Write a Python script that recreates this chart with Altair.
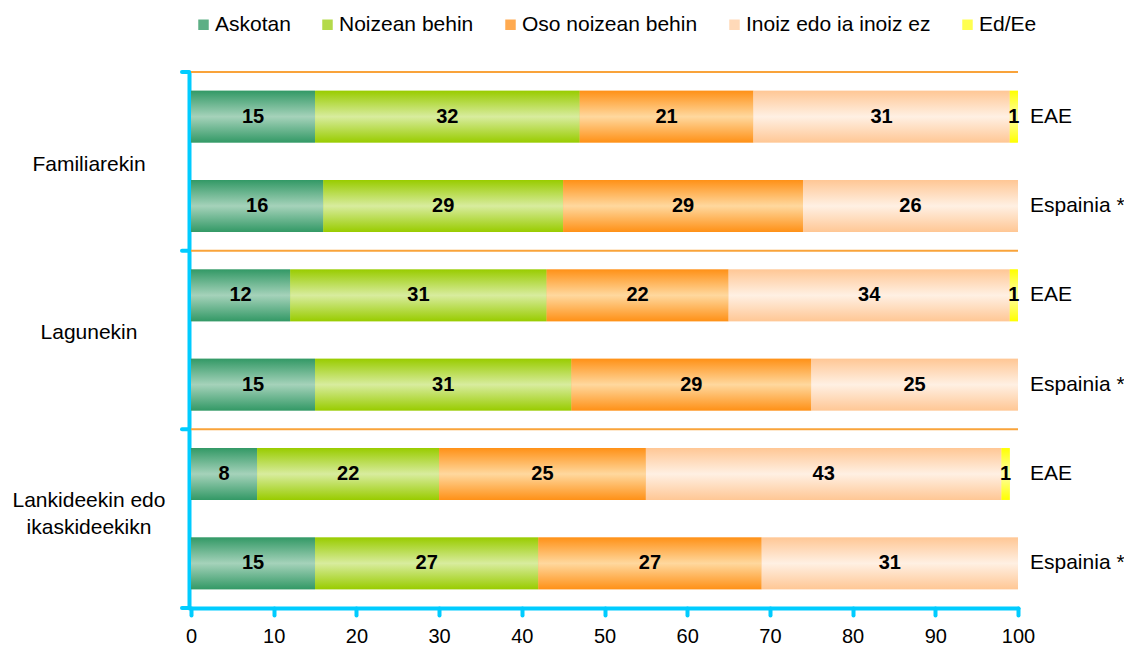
import altair as alt
import pandas as pd

groups = ["Familiarekin", "Lagunekin", "Lankideekin edo\nikaskideekikn"]
regions = ["EAE", "Espainia *"]
categories = ["Askotan", "Noizean behin", "Oso noizean behin", "Inoiz edo ia inoiz ez", "Ed/Ee"]
askotan = [15, 16, 12, 15, 8, 15]
noizean = [32, 29, 31, 31, 22, 27]
oso = [21, 29, 22, 29, 25, 27]
inoiz = [31, 26, 34, 25, 43, 31]
edee = [1, 0, 1, 0, 1, 0]
x_ticks = [0, 10, 20, 30, 40, 50, 60, 70, 80, 90, 100]

series = [askotan, noizean, oso, inoiz, edee]
dark = ["#339966", "#99CC00", "#FF9117", "#FFC795", "#FFFF00"]
light = ["#A5D2BA", "#D8EC9E", "#FFD89E", "#FFF0E3", "#FFFFA8"]
legend_cols = ["#5DAF85", "#B4DA4A", "#FFAA50", "#FFD9B8", "#FFFF50"]

CYAN = "#00CCFF"
ORANGE = "#F9A33A"
FONT = "Liberation Sans"
W, H = 827, 536

row_keys = []
recs = []
grp = []
for gi, g in enumerate(groups):
    for ri, r in enumerate(regions):
        i = gi * 2 + ri
        key = f"r{i}"
        row_keys.append(key)
        start = 0
        for ci, c in enumerate(categories):
            v = series[ci][i]
            recs.append(dict(row=key, group=g, region=r, cat=c, v=v,
                             x0=start, x1=start + v, mid=start + v / 2))
            start += v
    grp.append(dict(row=f"r{gi*2}", group=g, gi=gi))

df = pd.DataFrame(recs)
df = df[df.v > 0]
rowdf = df.drop_duplicates("row")[["row", "region"]]
gdf = pd.DataFrame(grp)
last = pd.DataFrame([dict(row=row_keys[-1])])

yscale = alt.Scale(domain=row_keys, paddingInner=0, paddingOuter=0)
yaxis = alt.Axis(labels=False, ticks=False, title=None, grid=False,
                 domainColor=CYAN, domainWidth=4, domainCap="round", offset=2)
xscale = alt.Scale(domain=[0, 100], nice=False)
xaxis = alt.Axis(values=x_ticks, grid=False, title=None,
                 domainColor=CYAN, domainWidth=4, domainCap="round",
                 tickColor=CYAN, tickWidth=4, tickSize=7, tickCap="round",
                 labelFontSize=20, labelColor="black", labelFont=FONT,
                 labelPadding=11, labelFlush=False)


def Y(**kw):
    return alt.Y("row:N", scale=yscale, axis=yaxis, **kw)


def X(field):
    return alt.X(f"{field}:Q", scale=xscale, axis=xaxis)


base = alt.Chart(df)

legend_bars = base.mark_bar(height={"band": 0.58}).encode(
    x=X("x0"), x2="x1", y=Y(),
    color=alt.Color("cat:N", scale=alt.Scale(domain=categories, range=legend_cols),
                    legend=alt.Legend(orient="none", legendX=2, legendY=-58,
                                      direction="horizontal", title=None,
                                      symbolType="square", symbolSize=110,
                                      symbolStrokeWidth=0,
                                      labelFontSize=21, labelFont=FONT,
                                      labelColor="black", columnPadding=26,
                                      labelOffset=1, padding=0, labelLimit=0)),
)

layers = [legend_bars]
for ci, c in enumerate(categories):
    grad = alt.Gradient(gradient="linear", x1=0, x2=0, y1=0, y2=1,
                        stops=[alt.GradientStop(color=dark[ci], offset=0),
                               alt.GradientStop(color=light[ci], offset=0.5),
                               alt.GradientStop(color=dark[ci], offset=1)])
    layers.append(
        base.transform_filter(alt.datum.cat == c)
        .mark_bar(height={"band": 0.58}, color=grad)
        .encode(x=X("x0"), x2="x1", y=Y())
    )

labels = base.mark_text(font=FONT, fontSize=20, fontWeight="bold", color="black").encode(
    x=X("mid"), y=Y(), text="v:Q")
layers.append(labels)

seps = alt.Chart(gdf).mark_rule(color=ORANGE, strokeWidth=2).encode(
    y=Y(bandPosition=0), x=alt.value(0), x2=alt.value(W))
layers.append(seps)

stubs = alt.Chart(gdf).mark_rule(color=CYAN, strokeWidth=4, strokeCap="round").encode(
    y=Y(bandPosition=0), x=alt.value(-9), x2=alt.value(-2))
layers.append(stubs)
stub_last = alt.Chart(last).mark_rule(color=CYAN, strokeWidth=4, strokeCap="round").encode(
    y=Y(bandPosition=1), x=alt.value(-9), x2=alt.value(-2))
layers.append(stub_last)

right = alt.Chart(rowdf).mark_text(font=FONT, fontSize=21, align="left", color="black").encode(
    y=Y(), x=alt.value(W + 12), text="region:N")
layers.append(right)

dys = [4, -7, -18]
for gi, g in enumerate(groups):
    layers.append(
        alt.Chart(gdf).transform_filter(alt.datum.gi == gi)
        .mark_text(font=FONT, fontSize=21, align="center", color="black",
                   lineBreak="\n", lineHeight=27, dy=dys[gi])
        .encode(y=Y(bandPosition=1), x=alt.value(-102), text="group:N")
    )

chart = alt.layer(*layers).properties(
    width=W, height=H,
    padding={"left": 183, "top": 64, "right": 106, "bottom": 41},
    autosize=alt.AutoSizeParams(type="none"),
).configure(font=FONT).configure_view(strokeWidth=0, stroke="transparent")

chart.save("out.html", embed_options={"renderer": "svg", "actions": False})
